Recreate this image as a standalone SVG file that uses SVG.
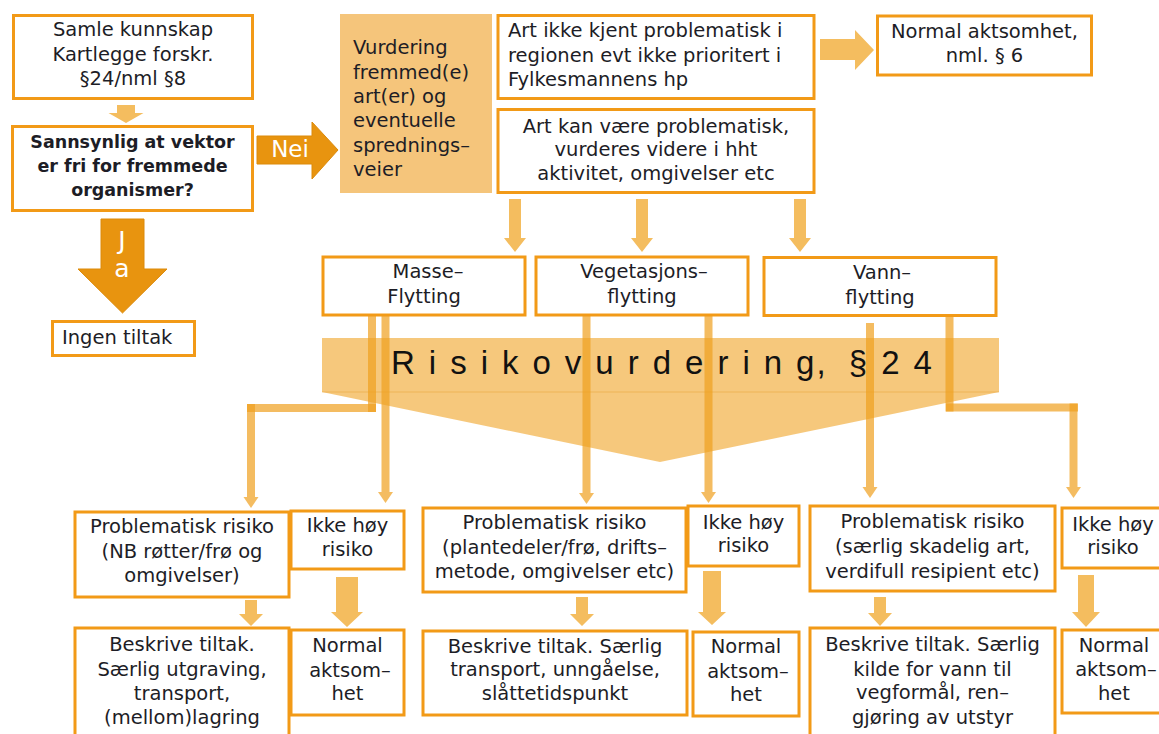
<svg xmlns="http://www.w3.org/2000/svg" width="1159" height="734" viewBox="0 0 1159 734">
<style>
.box{fill:#fff;stroke:#f29a17;stroke-width:3}
.t{font-family:"DejaVu Sans",Verdana,sans-serif;font-size:19.5px;fill:#1d1d26}
.c{text-anchor:middle}
.b{font-weight:bold;font-size:17.5px}
.la{fill:#f4bd5f}
.da{fill:#e8940f;stroke:#dc8a0b;stroke-width:1}
.wt{font-family:"DejaVu Sans",Verdana,sans-serif;fill:#fff;text-anchor:middle}
.ln{stroke:#efa01e;stroke-opacity:.7;stroke-width:8;fill:none}
.lh{fill:#efa01e;fill-opacity:.7}
</style>
<rect width="1159" height="734" fill="#fff"/>

<g id="banner">
<polygon points="322,338 999,338 999,392 660,462 322,392" fill="#efa01e" fill-opacity="0.58"/>
<line x1="322" y1="392" x2="999" y2="392" stroke="#e8961a" stroke-opacity="0.25" stroke-width="1.5"/>
</g>

<g id="connectors">
<polygon class="la" points="117,105 135,105 135,113 143.5,113 126,123 108.5,113 117,113"/>
<polygon class="da" points="257,136 312,136 312,122 338,150 312,179 312,164 257,164"/>
<polygon class="da" points="101,219 144,219 144,269 167,269 122.5,313 78,269 101,269"/>
<polygon class="la" points="820,39 855,39 855,30 874,50 855,70 855,60 820,60"/>
<polygon class="la" points="509,199 521,199 521,238 526,238 515,252 504,238 509,238"/>
<polygon class="la" points="636,199 648,199 648,238 653,238 642,252 631,238 636,238"/>
<polygon class="la" points="794,199 806,199 806,238 811,238 800,252 789,238 794,238"/>

<line class="ln" x1="372" y1="316" x2="372" y2="412"/>
<line class="ln" x1="247" y1="408" x2="376" y2="408"/>
<line class="ln" x1="251" y1="404" x2="251" y2="497"/>
<polygon class="lh" points="243.5,497 258.5,497 251,508"/>
<line class="ln" x1="385.5" y1="316" x2="385.5" y2="492"/>
<polygon class="lh" points="378,492 393,492 385.5,503"/>
<line class="ln" x1="586.5" y1="316" x2="586.5" y2="493"/>
<polygon class="lh" points="579,493 594,493 586.5,504"/>
<line class="ln" x1="708.5" y1="316" x2="708.5" y2="492"/>
<polygon class="lh" points="701,492 716,492 708.5,503"/>
<line class="ln" x1="870" y1="323" x2="870" y2="487"/>
<polygon class="lh" points="862.5,487 877.5,487 870,498"/>
<line class="ln" x1="949.5" y1="316" x2="949.5" y2="411.5"/>
<line class="ln" x1="946" y1="407.5" x2="1078" y2="407.5"/>
<line class="ln" x1="1073.5" y1="403.5" x2="1073.5" y2="487"/>
<polygon class="lh" points="1066,487 1081,487 1073.5,498"/>

<polygon class="la" points="245,600 257,600 257,614 263,614 251,626 239,614 245,614"/>
<polygon class="la" points="336,577 358,577 358,612 363,612 347,627 331,612 336,612"/>
<polygon class="la" points="576,597 588,597 588,614 594,614 582,626 570,614 576,614"/>
<polygon class="la" points="703,571 721,571 721,612 726,612 712,625 698,612 703,612"/>
<polygon class="la" points="874,597 886,597 886,613 892,613 880,626 868,613 874,613"/>
<polygon class="la" points="1078,575 1094,575 1094,612 1100,612 1086,627 1072,612 1078,612"/>
</g>

<g id="banner-label">
<text x="391" y="374" font-family="'Liberation Sans',Arial,sans-serif" font-size="33" fill="#111" letter-spacing="14" word-spacing="-14">Risikovurderin<tspan letter-spacing="2">g</tspan>, §24</text>
</g>
<g id="nei-label"><text class="wt" x="290" y="157" font-size="23">Nei</text></g>
<g id="ja-label"><text class="wt" font-size="25"><tspan x="122" y="249">J</tspan><tspan x="122" y="277">a</tspan></text></g>

<g id="samle">
<rect class="box" x="13.5" y="15.5" width="239" height="83"/>
<text class="t c"><tspan x="133" y="36">Samle kunnskap</tspan><tspan x="133" y="61">Kartlegge forskr.</tspan><tspan x="133" y="85">§24/nml §8</tspan></text>
</g>
<g id="sannsynlig">
<rect class="box" x="12.5" y="126.5" width="240" height="84"/>
<text class="t c b"><tspan x="132.5" y="148">Sannsynlig at vektor</tspan><tspan x="132.5" y="172">er fri for fremmede</tspan><tspan x="132.5" y="196">organismer?</tspan></text>
</g>
<g id="ingen">
<rect class="box" x="52.5" y="321.5" width="142" height="34"/>
<text class="t" x="62" y="344">Ingen tiltak</text>
</g>
<g id="vurdering">
<rect x="340" y="14" width="152" height="179" fill="#f5c57b"/>
<text class="t"><tspan x="353" y="54">Vurdering</tspan><tspan x="353" y="79">fremmed(e)</tspan><tspan x="353" y="103">art(er) og</tspan><tspan x="353" y="127">eventuelle</tspan><tspan x="353" y="152">sprednings–</tspan><tspan x="353" y="176">veier</tspan></text>
</g>
<g id="art-ikke">
<rect class="box" x="498" y="15.5" width="316" height="83"/>
<text class="t"><tspan x="508" y="37">Art ikke kjent problematisk i</tspan><tspan x="508" y="62">regionen evt ikke prioritert i</tspan><tspan x="508" y="86">Fylkesmannens hp</tspan></text>
</g>
<g id="normal-nml">
<rect class="box" x="877.5" y="16" width="214" height="59"/>
<text class="t c"><tspan x="984.5" y="38">Normal aktsomhet,</tspan><tspan x="984.5" y="62">nml. § 6</tspan></text>
</g>
<g id="art-kan">
<rect class="box" x="498" y="109.5" width="316" height="83"/>
<text class="t c"><tspan x="656" y="133">Art kan være problematisk,</tspan><tspan x="656" y="156">vurderes videre i hht</tspan><tspan x="656" y="180">aktivitet, omgivelser etc</tspan></text>
</g>
<g id="masse">
<rect class="box" x="323" y="257" width="202" height="58"/>
<text class="t c"><tspan x="428" y="278">Masse–</tspan><tspan x="424" y="303">Flytting</tspan></text>
</g>
<g id="vegetasjon">
<rect class="box" x="536" y="257" width="212" height="58"/>
<text class="t c"><tspan x="644" y="278">Vegetasjons–</tspan><tspan x="642" y="303">flytting</tspan></text>
</g>
<g id="vann">
<rect class="box" x="764" y="257.5" width="232" height="58"/>
<text class="t c"><tspan x="882" y="279">Vann–</tspan><tspan x="880" y="304">flytting</tspan></text>
</g>

<g id="prob1">
<rect class="box" x="75" y="512" width="214" height="85"/>
<text class="t c"><tspan x="182" y="533">Problematisk risiko</tspan><tspan x="182" y="558">(NB røtter/frø og</tspan><tspan x="182" y="582">omgivelser)</tspan></text>
</g>
<g id="ikke1">
<rect class="box" x="291" y="511" width="113" height="58"/>
<text class="t c"><tspan x="347.5" y="532">Ikke høy</tspan><tspan x="347.5" y="556">risiko</tspan></text>
</g>
<g id="beskrive1">
<rect class="box" x="75" y="628" width="214" height="120"/>
<text class="t c"><tspan x="182" y="651">Beskrive tiltak.</tspan><tspan x="182" y="676">Særlig utgraving,</tspan><tspan x="182" y="700">transport,</tspan><tspan x="182" y="724">(mellom)lagring</tspan></text>
</g>
<g id="normal1">
<rect class="box" x="291" y="630" width="113" height="85"/>
<text class="t c"><tspan x="347.5" y="652">Normal</tspan><tspan x="350" y="677">aktsom–</tspan><tspan x="347.5" y="700">het</tspan></text>
</g>

<g id="prob2">
<rect class="box" x="423" y="508" width="263" height="84"/>
<text class="t c"><tspan x="554.5" y="529">Problematisk risiko</tspan><tspan x="554.5" y="554">(plantedeler/frø, drifts–</tspan><tspan x="554.5" y="578">metode, omgivelser etc)</tspan></text>
</g>
<g id="ikke2">
<rect class="box" x="688" y="506" width="111" height="60"/>
<text class="t c"><tspan x="743.5" y="529">Ikke høy</tspan><tspan x="743.5" y="552">risiko</tspan></text>
</g>
<g id="beskrive2">
<rect class="box" x="423" y="631" width="264" height="84"/>
<text class="t c"><tspan x="555" y="653">Beskrive tiltak. Særlig</tspan><tspan x="555" y="676">transport, unngåelse,</tspan><tspan x="555" y="700">slåttetidspunkt</tspan></text>
</g>
<g id="normal2">
<rect class="box" x="693" y="632" width="106" height="84"/>
<text class="t c"><tspan x="746" y="653">Normal</tspan><tspan x="748" y="678">aktsom–</tspan><tspan x="746" y="701">het</tspan></text>
</g>

<g id="prob3">
<rect class="box" x="810" y="506" width="245" height="85"/>
<text class="t c"><tspan x="932.5" y="528">Problematisk risiko</tspan><tspan x="932.5" y="553">(særlig skadelig art,</tspan><tspan x="932.5" y="578">verdifull resipient etc)</tspan></text>
</g>
<g id="ikke3">
<rect class="box" x="1062" y="508" width="110" height="60"/>
<text class="t c"><tspan x="1113" y="531">Ikke høy</tspan><tspan x="1113" y="554">risiko</tspan></text>
</g>
<g id="beskrive3">
<rect class="box" x="810" y="628" width="245" height="120"/>
<text class="t c"><tspan x="932.5" y="651">Beskrive tiltak. Særlig</tspan><tspan x="932.5" y="676">kilde for vann til</tspan><tspan x="932.5" y="699">vegformål, ren–</tspan><tspan x="932.5" y="724">gjøring av utstyr</tspan></text>
</g>
<g id="normal3">
<rect class="box" x="1062" y="630" width="110" height="83"/>
<text class="t c"><tspan x="1114" y="652">Normal</tspan><tspan x="1116" y="676">aktsom–</tspan><tspan x="1114" y="700">het</tspan></text>
</g>
</svg>
